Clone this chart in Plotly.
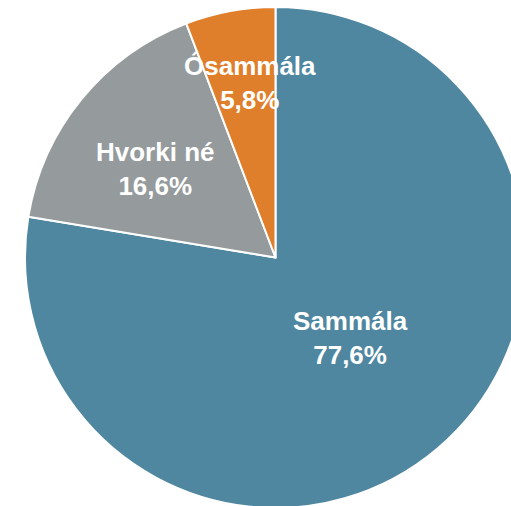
import math
import plotly.graph_objects as go

labels = ["Ósammála", "Hvorki né", "Sammála"]
values = [5.8, 16.6, 77.6]
colors = ["#E07F2B", "#959A9C", "#4F87A1"]
label_radius = [0.705, 0.597, 0.44]   # fraction of pie radius for each label
label_turn = [-2.1, 2.9, 2.9]          # small angular nudge (degrees) off the bisector

# The slices run counterclockwise (on screen) from 12 o'clock in the order above;
# drawn clockwise with the order reversed gives the same layout.
fig = go.Figure(
    go.Pie(
        labels=labels[::-1],
        values=values[::-1],
        sort=False,
        direction="clockwise",
        rotation=0,
        marker=dict(colors=colors[::-1], line=dict(color="white", width=2)),
        textinfo="none",
        hoverinfo="label+percent",
        showlegend=False,
        domain=dict(x=[0, 1], y=[0, 1]),
    )
)

# label positions from the slice bisectors
total = sum(values)
cum = 0.0
annotations = []
for lab, val, rf, turn in zip(labels, values, label_radius, label_turn):
    mid = (cum + val / 2) / total * 2 * math.pi + math.radians(turn)
    cum += val
    x = 0.5 - 0.5 * rf * math.sin(mid)
    y = 0.5 + 0.5 * rf * math.cos(mid)
    pct = f"{val / total * 100:.1f}".replace(".", ",") + "%"
    annotations.append(
        dict(
            x=x, y=y, xref="paper", yref="paper",
            text=f"<b>{lab}<br>{pct}</b>",
            showarrow=False,
            xanchor="center", yanchor="middle",
            font=dict(family="Liberation Sans, Arial, sans-serif", size=26, color="white"),
        )
    )

fig.update_layout(
    width=526,
    height=508,
    margin=dict(l=25, r=0, t=7, b=0, pad=0),
    paper_bgcolor="white",
    plot_bgcolor="white",
    annotations=annotations,
)

fig.write_html(
    "out.html",
    config={"displayModeBar": False},
    post_script="document.body.style.margin='0';document.body.style.overflow='hidden';document.documentElement.style.overflow='hidden';",
)
